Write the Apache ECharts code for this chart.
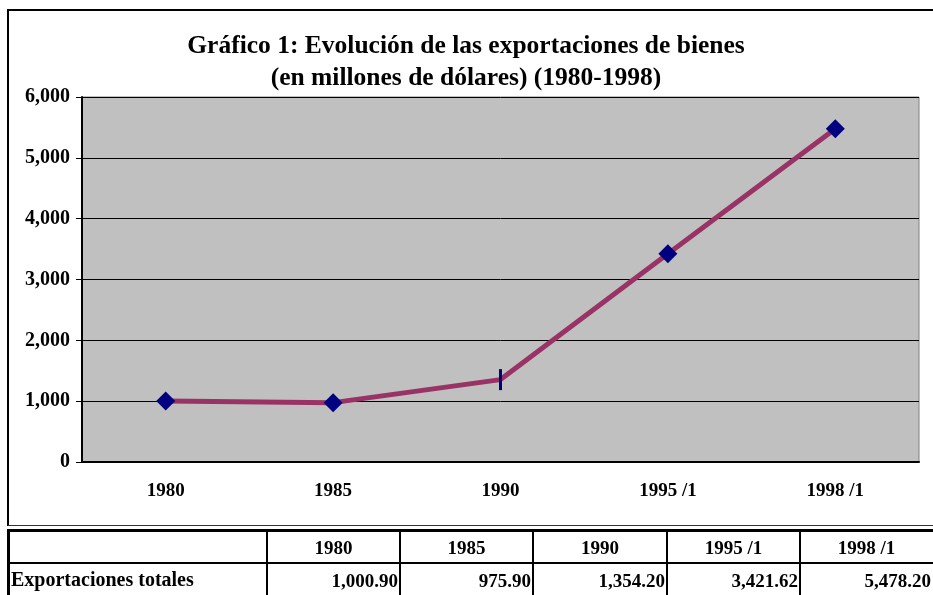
<!DOCTYPE html>
<html><head><meta charset="utf-8">
<script src="https://cdn.jsdelivr.net/npm/echarts@6/dist/echarts.min.js"></script>
<style>
body{margin:0;width:933px;height:595px;overflow:hidden;background:#fff;font-family:"Liberation Serif",serif;}
#chart{position:absolute;left:0;top:0;width:933px;height:595px;}
.frame{position:absolute;left:7px;top:9px;width:960px;height:514px;border-left:2px solid #000;border-top:2px solid #000;border-bottom:1px solid #333;}
.ln{position:absolute;background:#000;}
.cell{position:absolute;font-weight:bold;font-size:19px;line-height:33px;height:33px;white-space:nowrap;color:#000;font-family:"Liberation Serif",serif;}
</style></head><body>
<div class="frame"></div>
<div id="chart"></div>
<div id="table"></div>
<script>
const titleLines = ['Gráfico 1: Evolución de las exportaciones de bienes', '(en millones de dólares) (1980-1998)'];
const categories = ['1980', '1985', '1990', '1995 /1', '1998 /1'];
const exportValues = [1000.90, 975.90, 1354.20, 3421.62, 5478.20];
const rowLabel = 'Exportaciones totales';
const yMin = 0, yMax = 6000, yInterval = 1000;

const fmt0 = v => v.toLocaleString('en-US');
const fmt2 = v => v.toLocaleString('en-US', {minimumFractionDigits: 2, maximumFractionDigits: 2});

const chart = echarts.init(document.getElementById('chart'), null, {renderer: 'canvas'});
chart.setOption({
  animation: false,
  title: {
    text: titleLines.join('\n'),
    left: 466, top: 30, textAlign: 'center', padding: 0,
    textStyle: {fontFamily: 'Liberation Serif', fontWeight: 'bold', fontSize: 25.5, lineHeight: 32, color: '#000'}
  },
  grid: {left: 82, top: 97, right: 14, bottom: 133, show: true, backgroundColor: '#C0C0C0', borderColor: '#808080', borderWidth: 1},
  xAxis: {
    type: 'category', data: categories, boundaryGap: true,
    axisLine: {lineStyle: {color: '#000', width: 2}},
    axisTick: {show: false},
    axisLabel: {margin: 20, color: '#000', fontFamily: 'Liberation Serif', fontWeight: 'bold', fontSize: 19}
  },
  yAxis: {
    type: 'value', min: yMin, max: yMax, interval: yInterval,
    axisLine: {show: true, lineStyle: {color: '#000', width: 2}},
    axisTick: {show: true, length: 6, lineStyle: {color: '#000', width: 1}},
    splitLine: {show: true, lineStyle: {color: '#000', width: 1}},
    axisLabel: {margin: 12, color: '#000', fontFamily: 'Liberation Serif', fontWeight: 'bold', fontSize: 20, formatter: v => fmt0(v)}
  },
  series: [{
    type: 'line',
    data: exportValues.map((v, i) => i === 2 ? {value: v, symbol: 'rect', symbolSize: [3, 21]} : {value: v}),
    lineStyle: {color: '#993366', width: 5},
    itemStyle: {color: '#000080'},
    symbol: 'diamond', symbolSize: 19, showAllSymbol: true,
    z: 3
  }]
});

// Data table below the chart
const tbl = document.getElementById('table');
function addLine(x, y, w, h) {
  const d = document.createElement('div'); d.className = 'ln';
  d.style.left = x + 'px'; d.style.top = y + 'px'; d.style.width = w + 'px'; d.style.height = h + 'px';
  tbl.appendChild(d);
}
function addCell(text, x, y, w, align, size) {
  const d = document.createElement('div'); d.className = 'cell';
  d.style.left = x + 'px'; d.style.top = y + 'px'; d.style.width = w + 'px'; d.style.textAlign = align;
  if (size) d.style.fontSize = size + 'px';
  d.textContent = text; tbl.appendChild(d);
}
const colEdges = [8, 267, 400, 533, 667, 800, 933];
const rowTop = 530, rowMid = 563;
addLine(7, rowTop - 1, 940, 3);
addLine(7, rowTop - 1, 3, 70);
addLine(7, rowMid - 1, 940, 2);
for (let i = 1; i < colEdges.length - 1; i++) addLine(colEdges[i] - 1, rowTop - 1, 2, 70);
addCell(rowLabel, 11, rowMid, 250, 'left', 20);
categories.forEach((c, i) => {
  const x0 = colEdges[i + 1] + 1, x1 = colEdges[i + 2] - 1;
  addCell(c, x0, rowTop + 1, x1 - x0, 'center');
  addCell(fmt2(exportValues[i]), x0, rowMid + 1, x1 - x0 - 1, 'right');
});
</script>
</body></html>
